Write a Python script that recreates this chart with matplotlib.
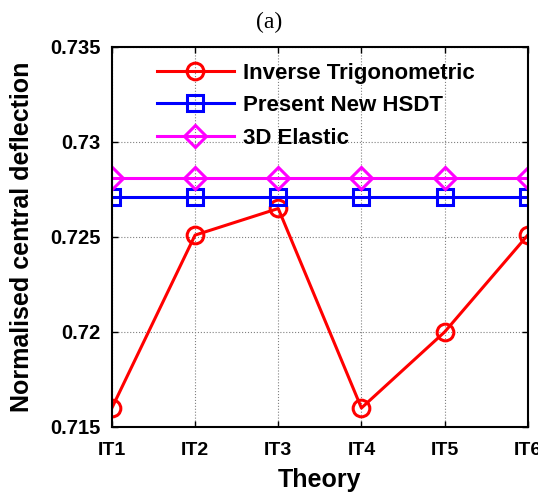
import matplotlib
matplotlib.use("Agg")
import matplotlib.pyplot as plt

theories = ["IT1", "IT2", "IT3", "IT4", "IT5", "IT6"]
inverse_trig = [0.716, 0.7251, 0.7265, 0.716, 0.720, 0.7251]
present_hsdt = [0.7271, 0.7271, 0.7271, 0.7271, 0.7271, 0.7271]
elastic_3d = [0.7281, 0.7281, 0.7281, 0.7281, 0.7281, 0.7281]
yticks = [0.715, 0.72, 0.725, 0.73, 0.735]
ytick_labels = ["0.715", "0.72", "0.725", "0.73", "0.735"]

plt.rcParams['font.family'] = ['Liberation Sans', 'DejaVu Sans']

fig = plt.figure(figsize=(5.38, 5.0), dpi=100)
ax = fig.add_axes([0.208, 0.146, 0.773, 0.76])

x = list(range(1, len(theories) + 1))
ax.plot(x, inverse_trig, color='red', marker='o', mfc='none', mew=2.2, ms=12, lw=2.2,
        label='Inverse Trigonometric')
ax.plot(x, present_hsdt, color='blue', marker='s', mfc='none', mew=2.2, ms=12, lw=2.2,
        label='Present New HSDT')
ax.plot(x, elastic_3d, color='magenta', marker='D', mfc='none', mew=2.2, ms=11, lw=2.2,
        label='3D Elastic')

ax.set_xlim(1, 6)
ax.set_ylim(0.715, 0.735)
ax.set_xticks(x)
ax.set_xticklabels(theories, fontweight='bold', fontsize=14)
ax.set_yticks(yticks)
ax.set_yticklabels(ytick_labels, fontweight='bold', fontsize=14.5)
ax.tick_params(direction='in', length=4, width=1, top=True, right=True)
ax.tick_params(axis='x', pad=11)
ax.tick_params(axis='y', pad=8)
ax.grid(True, linestyle=':', color='gray', linewidth=0.8)
for s in ax.spines.values():
    s.set_linewidth(1.5)

ax.set_xlabel('Theory', fontweight='bold', fontsize=18, labelpad=6)
ax.set_ylabel('Normalised central deflection', fontweight='bold', fontsize=18, labelpad=12)

# legend sits inside the top-left of the axes, no frame (MATLAB style)
leg = ax.legend(loc='upper left', bbox_to_anchor=(0.07, 1.0), frameon=False,
                prop={'weight': 'bold', 'size': 16}, handlelength=3.5,
                handletextpad=0.4, labelspacing=0.52, borderaxespad=0.3)

fig.text(0.5, 0.956, '(a)', ha='center', va='center', fontsize=17,
         family='Liberation Serif')

fig.savefig('out.png', dpi=100)
